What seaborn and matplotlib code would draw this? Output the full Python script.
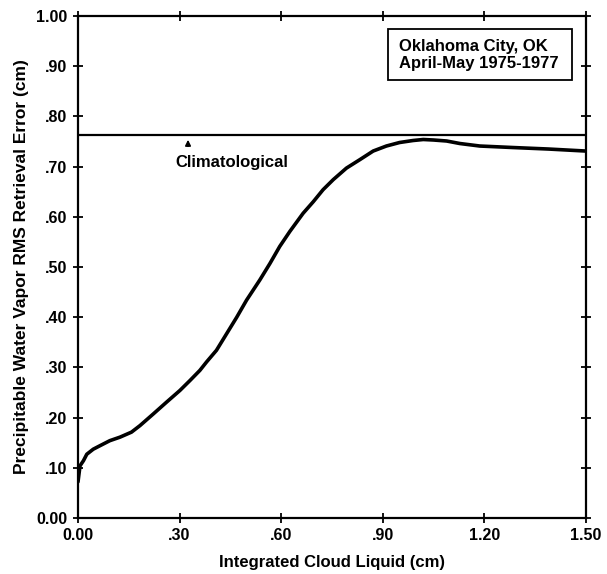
import matplotlib
matplotlib.use("Agg")
import matplotlib.pyplot as plt
import matplotlib.patches as mpatches
import seaborn as sns
import pandas as pd

# ---- data ----
cloud_liquid = [0.000, 0.006, 0.016, 0.026, 0.045, 0.065, 0.094, 0.124, 0.158, 0.183,
                0.222, 0.262, 0.301, 0.331, 0.360, 0.380, 0.409, 0.439, 0.469, 0.498,
                0.537, 0.567, 0.596, 0.626, 0.665, 0.695, 0.724, 0.754, 0.793, 0.833,
                0.872, 0.911, 0.950, 0.990, 1.020, 1.050, 1.089, 1.128, 1.187, 1.285,
                1.390, 1.500]
rms_error = [0.072, 0.104, 0.114, 0.127, 0.137, 0.144, 0.154, 0.161, 0.171, 0.184,
             0.207, 0.231, 0.254, 0.274, 0.294, 0.311, 0.334, 0.367, 0.400, 0.434,
             0.474, 0.507, 0.541, 0.571, 0.607, 0.630, 0.654, 0.674, 0.697, 0.714,
             0.731, 0.741, 0.748, 0.752, 0.754, 0.753, 0.751, 0.746, 0.741, 0.738,
             0.735, 0.731]
climatological = 0.762

x_ticks = [0.0, 0.3, 0.6, 0.9, 1.2, 1.5]
x_tick_labels = ["0.00", ".30", ".60", ".90", "1.20", "1.50"]
y_ticks = [0.0, 0.1, 0.2, 0.3, 0.4, 0.5, 0.6, 0.7, 0.8, 0.9, 1.0]
y_tick_labels = ["0.00", ".10", ".20", ".30", ".40", ".50", ".60", ".70", ".80", ".90", "1.00"]

sns.set_theme(style="white")
plt.rcParams["font.family"] = ["Liberation Sans", "DejaVu Sans"]
plt.rcParams["text.color"] = "black"
plt.rcParams["axes.labelcolor"] = "black"
plt.rcParams["xtick.color"] = "black"
plt.rcParams["ytick.color"] = "black"

fig = plt.figure(figsize=(6.07, 5.74), dpi=100)
ax = fig.add_axes([0.1285, 0.0976, 0.8365, 0.8745])

df = pd.DataFrame({"x": cloud_liquid, "y": rms_error})
sns.lineplot(data=df, x="x", y="y", ax=ax, color="black", linewidth=2.6)
ax.axhline(climatological, color="black", linewidth=1.6)

ax.set_xlim(0, 1.5)
ax.set_ylim(0, 1.0)
ax.set_xticks(x_ticks)
ax.set_xticklabels(x_tick_labels)
ax.set_yticks(y_ticks)
ax.set_yticklabels(y_tick_labels)
ax.tick_params(direction="inout", length=7, width=1.3, color="black",
               top=True, right=True, bottom=True, left=True,
               labelsize=11.5, pad=4)
ax.tick_params(axis="x", pad=4)
for lab in ax.get_xticklabels() + ax.get_yticklabels():
    lab.set_fontweight("bold")
for s in ax.spines.values():
    s.set_color("black")
    s.set_linewidth(1.6)

ax.set_xlabel("Integrated Cloud Liquid (cm)", fontsize=12, fontweight="bold", labelpad=8)
ax.set_ylabel("Precipitable Water Vapor RMS Retrieval Error (cm)", fontsize=12.5,
              fontweight="bold", labelpad=5)

# climatological annotation
ax.annotate("", xy=(0.325, climatological - 0.003), xytext=(0.325, 0.735),
            arrowprops=dict(arrowstyle="-|>", color="black", lw=1.2, mutation_scale=8))
ax.text(0.287, 0.708, "Climatological", fontsize=12, fontweight="bold",
        ha="left", va="center")

ax.add_patch(mpatches.Rectangle((0.915, 0.872), 0.544, 0.102, facecolor="white",
                                edgecolor="black", linewidth=1.3, zorder=3))
ax.text(0.948, 0.922, "Oklahoma City, OK\nApril-May 1975-1977", fontsize=12,
        fontweight="bold", ha="left", va="center", linespacing=1.2, zorder=4)

fig.savefig("out.png", dpi=100)
